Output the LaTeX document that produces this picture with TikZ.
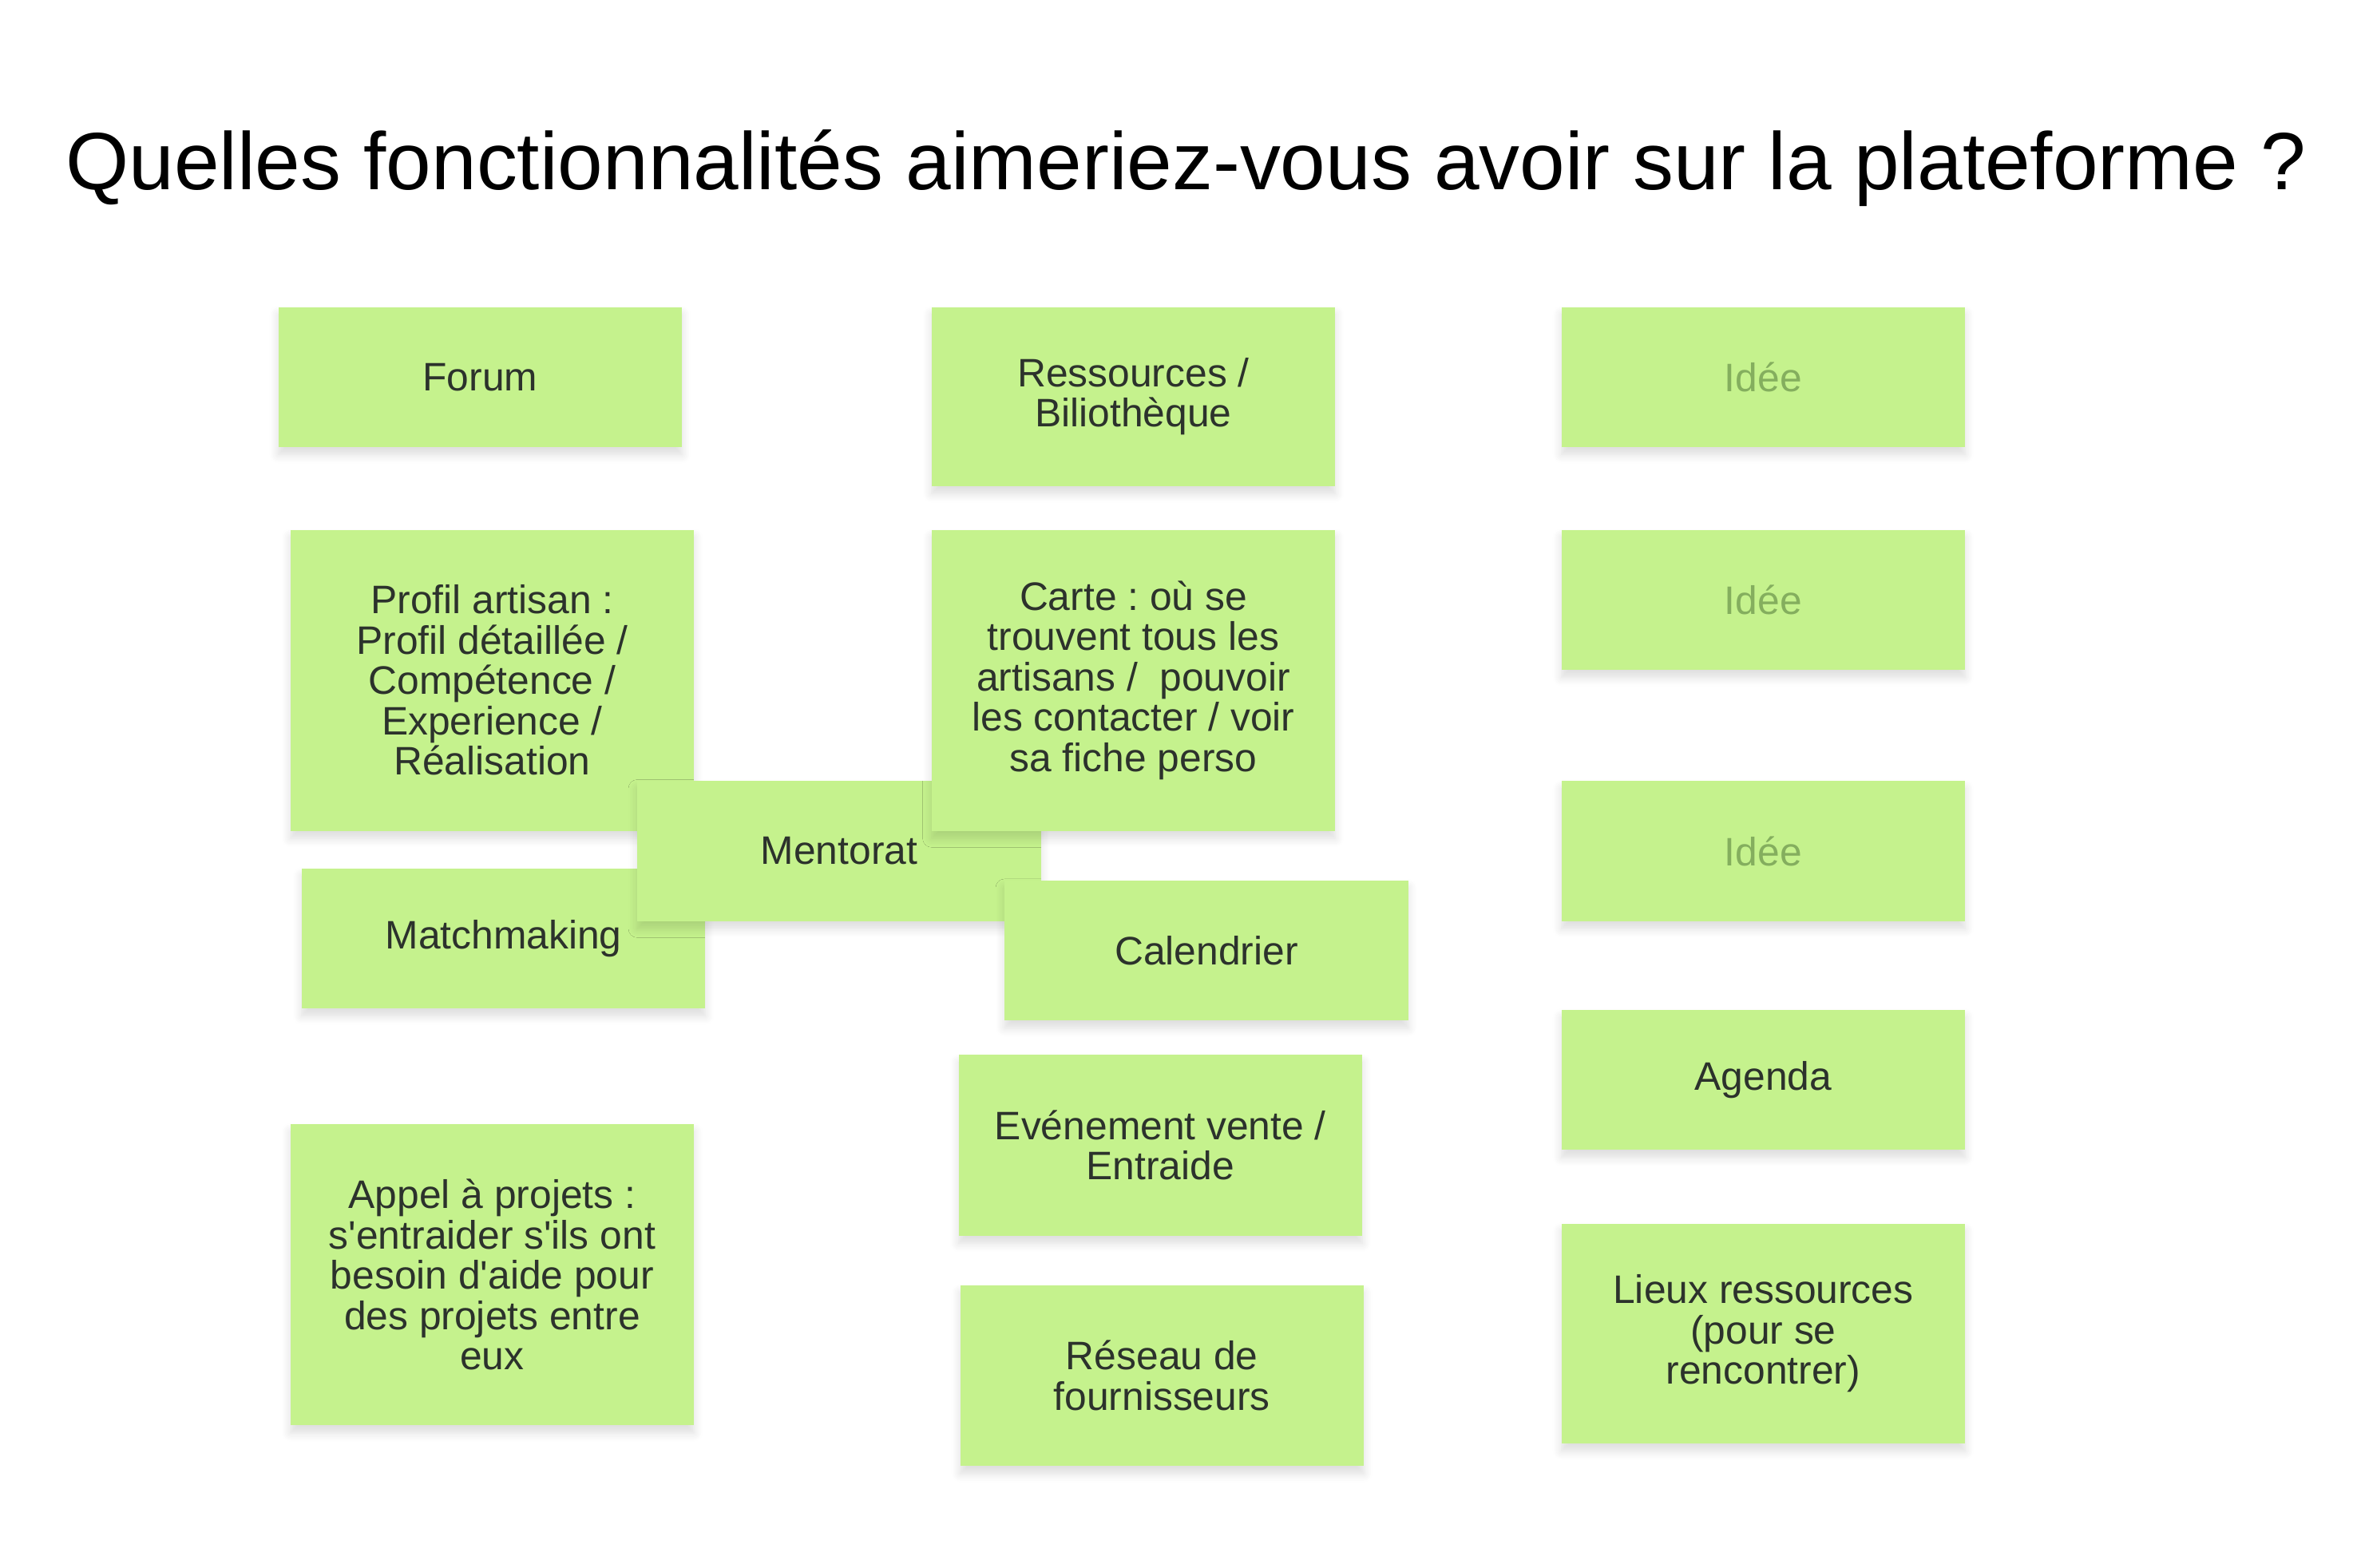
\documentclass[tikz,border=0pt]{standalone}
\usepackage{fontspec}
\setmainfont{Liberation Sans}
\usepackage{tikz}
\usetikzlibrary{shadows.blur}
\definecolor{notegreen}{RGB}{197, 242, 141}
\definecolor{notetext}{RGB}{44, 50, 44}
\definecolor{ideatext}{RGB}{132, 174, 94}
\frenchspacing

\begin{document}
\begin{tikzpicture}[x=0.5pt, y=-0.5pt,
  note/.style={fill=notegreen, minimum width=134pt, inner sep=0pt, align=center,
    text=notetext, font=\fontsize{13.2}{13.4}\selectfont,
    blur shadow={shadow xshift=0pt, shadow yshift=-2.5pt, shadow blur radius=3pt,
      shadow blur steps=6, shadow opacity=14}},
  idea/.style={note, text=ideatext}]
  \useasboundingbox (0, 0) rectangle (1566, 1041.4);

  % Title
  \node[anchor=base, font=\fontsize{27}{30}\selectfont] (title) at (788, 126)
    {Quelles fonctionnalités aimeriez-vous avoir sur la plateforme ?};

  % Left column
  \node[note, minimum height=46.5pt] (forum) at (319, 250.5) {Forum};
  \node[note, minimum height=100pt] (profil) at (327, 452)
    {Profil artisan :\\Profil détaillée /\\Compétence /\\Experience /\\Réalisation};
  \node[note, minimum height=46.5pt] (match) at (334.5, 623.5) {Matchmaking};
  \node[note, minimum height=100pt] (appel) at (327, 847)
    {Appel à projets :\\s\textquotesingle entraider s\textquotesingle ils ont\\besoin d\textquotesingle aide pour\\des projets entre\\eux};

  % Middle column
  \node[note, minimum height=59.5pt] (ressources) at (753, 263.5)
    {Ressources /\\Biliothèque};
  \node[note, minimum height=46.5pt] (mentorat) at (557.5, 565.5) {Mentorat};
  \node[note, minimum height=100pt] (carte) at (753, 452)
    {Carte : où se\\trouvent tous les\\artisans /~~pouvoir\\les contacter / voir\\sa fiche perso};
  \node[note, minimum height=46.5pt] (calendrier) at (801.5, 631.5) {Calendrier};
  \node[note, minimum height=60pt] (evenement) at (771, 761)
    {Evénement vente /\\Entraide};
  \node[note, minimum height=60pt] (reseau) at (772, 914)
    {Réseau de\\fournisseurs};

  % Right column
  \node[idea, minimum height=46.5pt] (idee1) at (1171.5, 250.5) {Idée};
  \node[idea, minimum height=46.5pt] (idee2) at (1171.5, 398.5) {Idée};
  \node[idea, minimum height=46.5pt] (idee3) at (1171.5, 565.5) {Idée};
  \node[note, minimum height=46.5pt] (agenda) at (1171.5, 717.5) {Agenda};
  \node[note, minimum height=73pt] (lieux) at (1171.5, 886)
    {Lieux ressources\\(pour se\\rencontrer)};
\end{tikzpicture}
\end{document}
